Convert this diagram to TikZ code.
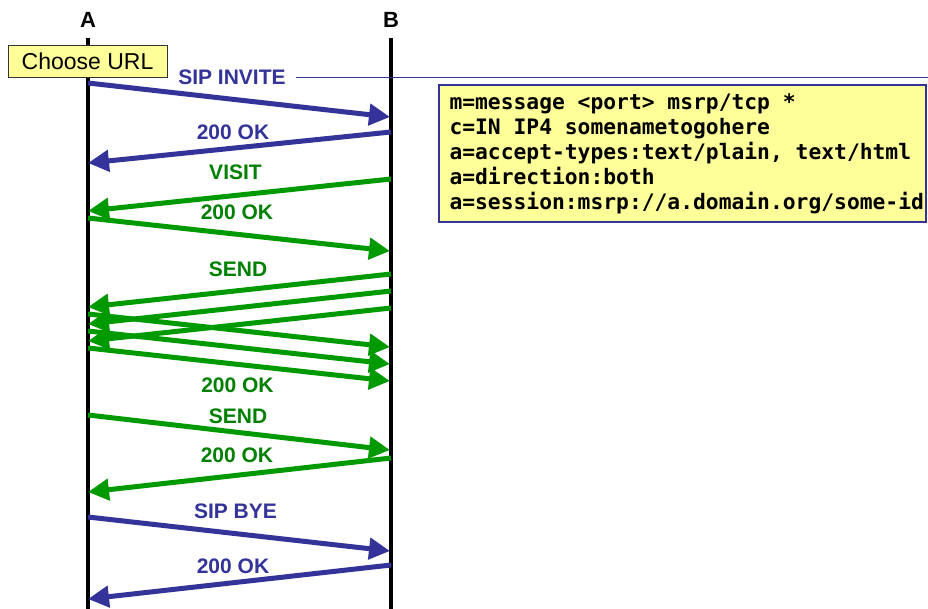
\documentclass[tikz,border=0pt]{standalone}
\usepackage{fontspec}
\setmainfont{Liberation Sans}
\newfontfamily\sdpfont{DejaVu Sans Mono Bold}
\newcommand\sdpstyle{\sdpfont\fontsize{21.3}{25}\selectfont\exhyphenpenalty=10000\relax}
% tikz's align=left sets \spaceskip to .3333em, so restore a full mono space
\newcommand\monospace{\spaceskip=0.602em\relax\xspaceskip=0.602em\relax}
\usepackage{tikz}
\usetikzlibrary{positioning, arrows.meta}

\definecolor{sipblue}{RGB}{51,51,153}
\definecolor{msrpgreen}{RGB}{0,153,0}
\definecolor{msrptext}{RGB}{0,128,0}
\definecolor{notefill}{RGB}{255,255,153}

\begin{document}
\begin{tikzpicture}[x=1pt, y=-1pt,
  every node/.style={font=\fontsize{21}{24}\selectfont\bfseries},
  lifeline/.style={line width=4.5pt},
  sipmsg/.style={-{Triangle[length=21pt, width=21pt]}, line width=5pt, sipblue},
  msrpmsg/.style={-{Triangle[length=21pt, width=21pt]}, line width=5pt, msrpgreen},
  siplabel/.style={text=sipblue, inner sep=0pt},
  msrplabel/.style={text=msrptext, inner sep=0pt}
]
  \useasboundingbox (0,0) rectangle (928,608);

  % endpoints and lifelines
  \node (A) at (88,20) [font=\fontsize{22}{24}\selectfont\bfseries] {A};
  \node (B) at (391,20) [font=\fontsize{22}{24}\selectfont\bfseries] {B};
  \coordinate (Atop) at (88,38);   \coordinate (Abot) at (88,610);
  \coordinate (Btop) at (391,38);  \coordinate (Bbot) at (391,610);
  \draw[lifeline] (Atop) -- (Abot);
  \draw[lifeline] (Btop) -- (Bbot);

  \node (url) at (87.5,61) [draw=black!80, line width=1pt, fill=notefill,
       minimum width=159pt, minimum height=32pt, inner sep=0pt,
       font=\fontsize{23}{26}\selectfont] {Choose URL};

  % SIP setup
  \node[siplabel] (invite) at (232,77.5) {SIP INVITE};
  \coordinate (sdpline) at (928,77.5);
  \draw[sipblue, line width=1.2pt, shorten <=10pt] (invite.east) -- (sdpline);
  \coordinate (inviteA) at (88,83);    \coordinate (inviteB) at (390,117);
  \draw[sipmsg] (inviteA) -- (inviteB);

  \node[siplabel] (okinvite) at (233,132.5) {200 OK};
  \coordinate (okinviteB) at (391,132); \coordinate (okinviteA) at (88,163);
  \draw[sipmsg] (okinviteB) -- (okinviteA);

  \node (sdp) at (682.5,153.5) [draw=sipblue, line width=1.2pt, fill=notefill,
       minimum width=487pt, minimum height=137pt, text width=466pt,
       inner xsep=10pt, align=left, font=\sdpstyle]
       {\monospace m=message <port> msrp/tcp *\\
        c=IN IP4 somenametogohere\\
        a=accept-types:text/plain, text/html\\
        a=direction:both\\
        a=session:msrp://a.domain.org/some-id};

  % MSRP exchange
  \node[msrplabel] (visit) at (235.5,172.5) {VISIT};
  \coordinate (visitB) at (391,179);   \coordinate (visitA) at (88,211);
  \draw[msrpmsg] (visitB) -- (visitA);

  \node[msrplabel] (okvisit) at (237,212.5) {200 OK};
  \coordinate (okvisitA) at (88,218);  \coordinate (okvisitB) at (390,251);
  \draw[msrpmsg] (okvisitA) -- (okvisitB);

  \node[msrplabel] (send) at (238,269) {SEND};
  \foreach \i/\yb/\ya in {1/274/307, 2/291/324, 3/308/341} {
    \coordinate (sendB\i) at (391,\yb); \coordinate (sendA\i) at (88,\ya);
    \draw[msrpmsg] (sendB\i) -- (sendA\i);
  }
  \foreach \i/\ya/\yb in {1/314/347, 2/331/364, 3/348/381} {
    \coordinate (oksendA\i) at (88,\ya); \coordinate (oksendB\i) at (390,\yb);
    \draw[msrpmsg] (oksendA\i) -- (oksendB\i);
  }
  \node[msrplabel] (oksend) at (237.5,385.5) {200 OK};

  \node[msrplabel] (sendback) at (238,416) {SEND};
  \coordinate (sendbackA) at (88,415); \coordinate (sendbackB) at (390,450);
  \draw[msrpmsg] (sendbackA) -- (sendbackB);

  \node[msrplabel] (oksendback) at (237,455.5) {200 OK};
  \coordinate (oksendbackB) at (391,458); \coordinate (oksendbackA) at (88,492);
  \draw[msrpmsg] (oksendbackB) -- (oksendbackA);

  % SIP teardown
  \node[siplabel] (bye) at (235.5,511) {SIP BYE};
  \coordinate (byeA) at (88,517);      \coordinate (byeB) at (390,551);
  \draw[sipmsg] (byeA) -- (byeB);

  \node[siplabel] (okbye) at (233,566.5) {200 OK};
  \coordinate (okbyeB) at (391,565);   \coordinate (okbyeA) at (88,599);
  \draw[sipmsg] (okbyeB) -- (okbyeA);
\end{tikzpicture}
\end{document}
